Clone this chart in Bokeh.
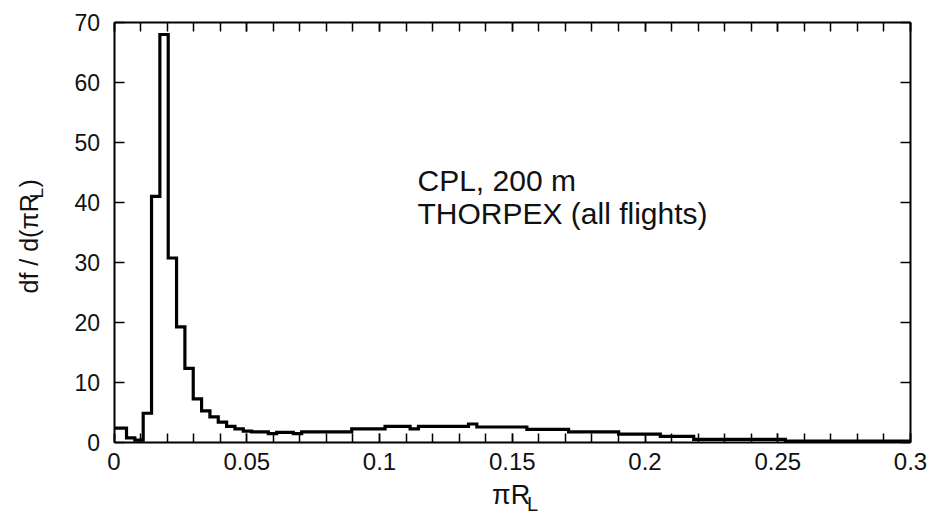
import numpy as np
from bokeh.plotting import figure
from bokeh.models import Range1d, LinearAxis, FixedTicker, Label, CustomJSTickFormatter
from bokeh.embed import file_html
from bokeh.resources import INLINE

# ---------------- data ----------------
# histogram bins of width 0.001 in R_L, plotted against pi*R_L (bin k centred at pi*0.001*k)
rl_bin_width = 0.001
density = [
    2.3, 2.3, 0.7, 0.3, 4.8, 41.0, 68.0, 30.7, 19.2, 12.3,
    7.2, 5.2, 4.2, 3.3, 2.6, 2.2, 1.8, 1.7, 1.7, 1.4,
    1.6, 1.6, 1.4, 1.7, 1.7, 1.7, 1.7, 1.7, 1.7, 2.2,
    2.2, 2.2, 2.2, 2.6, 2.6, 2.6, 2.2, 2.6, 2.6, 2.6,
    2.6, 2.6, 2.6, 3.0, 2.5, 2.5, 2.5, 2.5, 2.5, 2.5,
    2.1, 2.1, 2.1, 2.1, 2.1, 1.7, 1.7, 1.7, 1.7, 1.7,
    1.7, 1.3, 1.3, 1.3, 1.3, 1.3, 0.95, 0.95, 0.95, 0.95,
    0.45, 0.45, 0.45, 0.45, 0.45, 0.45, 0.45, 0.45, 0.45, 0.45,
    0.45, 0.15, 0.15, 0.15, 0.15, 0.15, 0.15, 0.15, 0.15, 0.15,
    0.15, 0.15, 0.15, 0.15, 0.15, 0.15,
]
x_ticks = [0, 0.05, 0.1, 0.15, 0.2, 0.25, 0.3]
x_tick_labels = ["0", "0.05", "0.1", "0.15", "0.2", "0.25", "0.3"]
x_minor_ticks = [round(0.01 * i, 2) for i in range(31)]
y_ticks = [0, 10, 20, 30, 40, 50, 60, 70]
y_tick_labels = ["0", "10", "20", "30", "40", "50", "60", "70"]
annotation_lines = ["CPL, 200 m", "THORPEX (all flights)"]

X_MIN, X_MAX = 0.0, 0.3
Y_MIN, Y_MAX = 0.0, 70.0

# ---------------- build step outline ----------------
w = np.pi * rl_bin_width
centers = np.arange(len(density)) * w
xs, ys = [], []
for c, d in zip(centers, density):
    xs += [max(c - w / 2, X_MIN), min(c + w / 2, X_MAX)]
    ys += [d, d]

FONT = "Liberation Sans"
TXT = "#111111"

W, H = 928, 513
# pixel placement of the data box inside the canvas
LEFT, RIGHT, TOP, BOTTOM = 113.5, 910.0, 22.0, 441.5
sx = (RIGHT - LEFT) / (X_MAX - X_MIN)
sy = (BOTTOM - TOP) / (Y_MAX - Y_MIN)
x_range = Range1d(X_MIN - LEFT / sx, X_MAX + (W - RIGHT) / sx)
y_range = Range1d(Y_MIN - (H - BOTTOM) / sy, Y_MAX + TOP / sy)

p = figure(width=W, height=H, x_range=x_range, y_range=y_range,
           output_backend="svg", toolbar_location=None,
           x_axis_location=None, y_axis_location=None,
           min_border=0)
p.xgrid.visible = False
p.ygrid.visible = False
p.outline_line_color = None
p.background_fill_color = "white"
p.border_fill_color = "white"

p.line(xs, ys, line_color="black", line_width=3.2, line_join="miter")

# axes forming the box
bottom = LinearAxis(fixed_location=Y_MIN, bounds=(X_MIN, X_MAX))
top = LinearAxis(fixed_location=Y_MAX, bounds=(X_MIN, X_MAX))
left = LinearAxis(fixed_location=X_MIN, bounds=(Y_MIN, Y_MAX))
right = LinearAxis(fixed_location=X_MAX, bounds=(Y_MIN, Y_MAX))
p.add_layout(bottom, "below")
p.add_layout(top, "above")
p.add_layout(left, "left")
p.add_layout(right, "right")

for ax in [bottom, top]:
    ax.ticker = FixedTicker(ticks=x_ticks, minor_ticks=x_minor_ticks)
    ax.major_tick_in = 9
    ax.minor_tick_in = 9
for ax in [left, right]:
    ax.ticker = FixedTicker(ticks=y_ticks, minor_ticks=[])
    ax.major_tick_in = 10
    ax.minor_tick_in = 0

for ax in [bottom, top, left, right]:
    ax.major_tick_out = 0
    ax.minor_tick_out = 0
    ax.major_tick_line_color = "black"
    ax.minor_tick_line_color = "black"
    ax.major_tick_line_width = 1.5
    ax.minor_tick_line_width = 1.5
    ax.axis_line_color = "black"
    ax.axis_line_width = 2
    ax.major_label_text_font = FONT
    ax.major_label_text_color = TXT

for ax in [top, right]:
    ax.major_label_text_color = None
    ax.major_label_text_alpha = 0

bottom.formatter = CustomJSTickFormatter(args=dict(labels=x_tick_labels),
                                         code="return labels[index]")
left.formatter = CustomJSTickFormatter(args=dict(labels=y_tick_labels),
                                       code="return labels[index]")
bottom.major_label_text_font_size = "24px"
left.major_label_text_font_size = "23px"
bottom.major_label_standoff = 11
left.major_label_standoff = 14


def px_to_x(px):
    return X_MIN + (px - LEFT) / sx


def px_to_y(py):
    return Y_MIN + (BOTTOM - py) / sy


def add_text(text, px, py, size, angle=0.0):
    # (px, py): pixel position of the text baseline start;
    # compensate for the renderer placing the "alphabetic" anchor ~0.4em low
    shift = 0.4 * size
    if angle == 0.0:
        py -= shift
    else:
        px -= shift
    p.add_layout(Label(x=px_to_x(px), y=px_to_y(py), text=text, text_font=FONT,
                       text_font_size=f"{size}px", text_color=TXT, angle=angle,
                       text_baseline="alphabetic", text_align="left"))


# x-axis title: pi R_L
add_text("\u03c0R", 491.5, 505.0, 27)
add_text("L", 526.5, 511.0, 20)

# y-axis title: df / d(pi R_L), rotated
add_text("df / d(\u03c0R", 38.0, 293.0, 25, np.pi / 2)
add_text("L", 44.0, 198.0, 19, np.pi / 2)
add_text(")", 38.0, 187.0, 25, np.pi / 2)

# in-plot annotation
add_text(annotation_lines[0], 417.0, 192.0, 30)
add_text(annotation_lines[1], 417.0, 225.0, 30)

open("out.html", "w").write(file_html(p, INLINE))
